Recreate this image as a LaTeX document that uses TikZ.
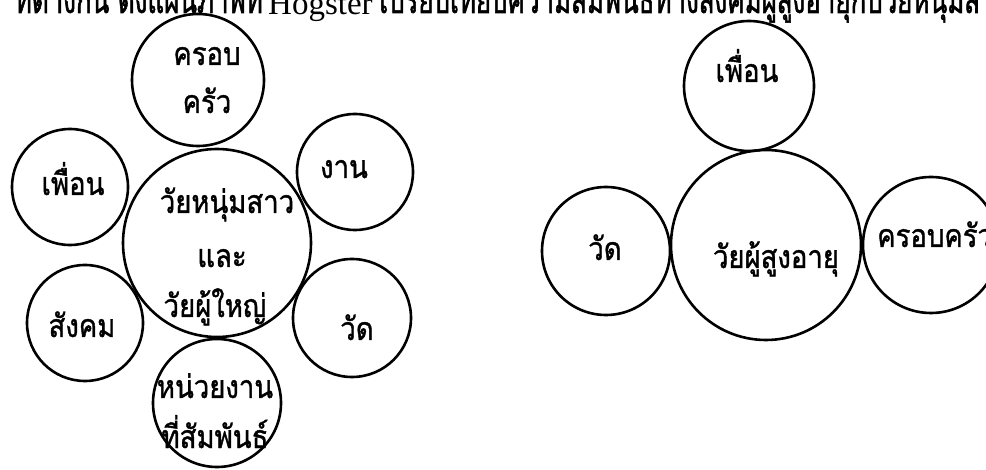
\documentclass[tikz,border=0pt]{standalone}
\usepackage{fontspec}
\setmainfont{Liberation Serif}
\newfontfamily\thai[Script=Thai, FakeStretch=0.86, FakeBold=1.2]{Loma}
\newfontfamily\thaihead[Script=Thai, FakeStretch=0.7, FakeBold=1.5]{Loma}
\begin{document}
\begin{tikzpicture}[x=1pt,y=-1pt,
  ring/.style={draw, circle, line width=2.6pt, inner sep=0pt},
  lbl/.style={font=\thai\fontsize{32pt}{32pt}\selectfont, anchor=base, inner sep=0pt},
  head/.style={font=\thaihead\fontsize{37pt}{37pt}\selectfont, inner sep=0pt}]
  \useasboundingbox (0,0) rectangle (986,470);
  \clip (0,0) rectangle (986,470);

  % running text line above the diagrams (its upper half lies above the page)
  \node[head, anchor=base east] (tA) at (263,13) {ที่ต่างกัน ดังแผนภาพที่};
  \node[inner sep=0pt, anchor=base west, font=\fontsize{33pt}{33pt}\selectfont] (tB) at (268,15) {Hogster};
  \node[head, anchor=base west] (tC) at (379,13) {เปรียบเทียบความสัมพันธ์ทางสังคมผู้สูงอายุกับวัยหนุ่มสาว};

  % young and middle-aged adults
  \node[ring, minimum size=188pt] (young) at (217,243) {};
  \node[ring, minimum size=132pt] (famL)  at (198,80)  {};
  \node[ring, minimum size=116pt] (friL)  at (70,187)  {};
  \node[ring, minimum size=116pt] (work)  at (355,172) {};
  \node[ring, minimum size=116pt] (soc)   at (85,323)  {};
  \node[ring, minimum size=118pt] (tmpL)  at (352,318) {};
  \node[ring, minimum size=128pt] (agcy)  at (217,403) {};

  \node[lbl] (yA) at (227,213) {วัยหนุ่มสาว};
  \node[lbl] (yB) at (222,267) {และ};
  \node[lbl] (yC) at (215,317) {วัยผู้ใหญ่};
  \node[lbl] (fA) at (207,65)  {ครอบ};
  \node[lbl] (fB) at (207,113) {ครัว};
  \node[lbl] (frL) at (73,195) {เพื่อน};
  \node[lbl] (wk) at (344,178) {งาน};
  \node[lbl] (sc) at (82,337)  {สังคม};
  \node[lbl] (tL) at (357,340) {วัด};
  \node[lbl] (aA) at (215,398) {หน่วยงาน};
  \node[lbl] (aB) at (215,448) {ที่สัมพันธ์};

  % the elderly
  \node[ring, minimum size=190pt] (old)  at (766,245) {};
  \node[ring, minimum size=130pt] (friR) at (749,86)  {};
  \node[ring, minimum size=128pt] (tmpR) at (606,251) {};
  \node[ring, minimum size=136pt] (famR) at (931,245) {};

  \node[lbl] (oA) at (776,268) {วัยผู้สูงอายุ};
  \node[lbl] (frR) at (747,82) {เพื่อน};
  \node[lbl] (tR) at (605,260) {วัด};
  \node[lbl, anchor=base west] (fR) at (877,247) {ครอบครัว};
\end{tikzpicture}
\end{document}
